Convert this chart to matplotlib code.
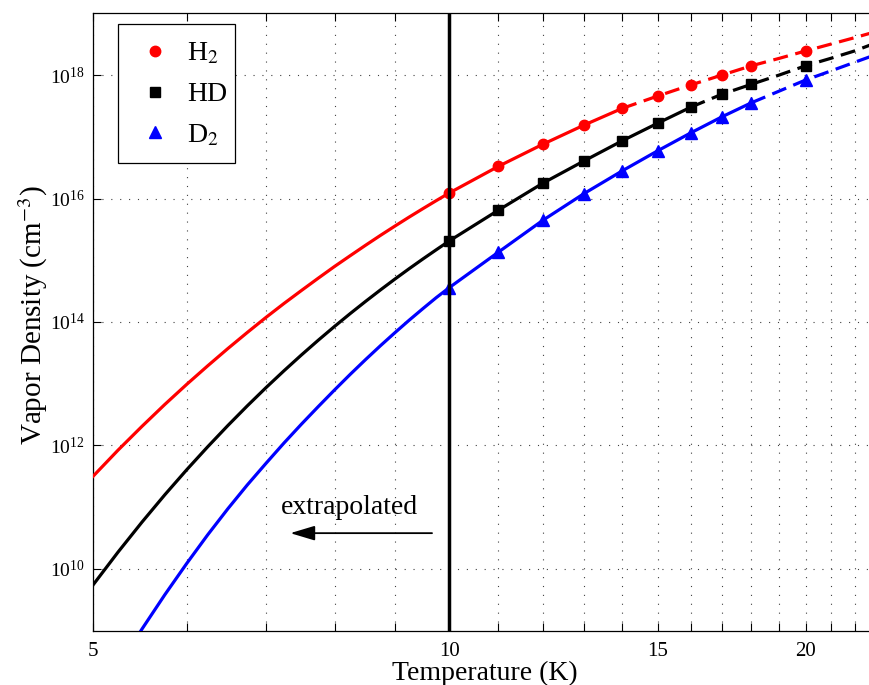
import numpy as np
import matplotlib
matplotlib.use("Agg")
import matplotlib.pyplot as plt
from matplotlib.patches import Rectangle
from matplotlib.ticker import FixedLocator, NullFormatter, FixedFormatter, LogFormatterMathtext, NullLocator

plt.rcParams['font.family'] = ['Liberation Serif', 'DejaVu Serif']
plt.rcParams['mathtext.fontset'] = 'stix'

# Temperature grid (K) for the vapour-density curves
temperature = [5.0, 5.25, 5.5, 5.75, 6.0, 6.25, 6.5, 6.75, 7.0, 7.25,
               7.5, 7.75, 8.0, 8.25, 8.5, 8.75, 9.0, 9.25, 9.5, 9.75,
               10, 11, 12, 13, 14, 15, 16, 17, 18, 19, 20, 21, 22, 23]

# log10 of vapour density (cm^-3)
h2_log10 = [11.50, 11.925, 12.31, 12.665, 12.99, 13.29, 13.57, 13.83, 14.074, 14.30,
            14.51, 14.71, 14.90, 15.076, 15.245, 15.405, 15.556, 15.70, 15.836, 15.966,
            16.09, 16.52, 16.88, 17.19, 17.46, 17.66, 17.84, 18.00, 18.15, 18.27,
            18.39, 18.50, 18.605, 18.71]
hd_log10 = [9.74, 10.274, 10.759, 11.202, 11.607, 11.979, 12.323, 12.641, 12.936, 13.21,
            13.466, 13.705, 13.929, 14.139, 14.336, 14.522, 14.698, 14.864, 15.021, 15.17,
            15.313, 15.81, 16.25, 16.61, 16.935, 17.22, 17.48, 17.69, 17.85, 18.00,
            18.15, 18.27, 18.39, 18.53]
d2_log10 = [7.737, 8.414, 9.027, 9.583, 10.089, 10.553, 10.975, 11.36, 11.71, 12.04,
            12.345, 12.63, 12.90, 13.155, 13.394, 13.619, 13.83, 14.03, 14.217, 14.395,
            14.557, 15.13, 15.649, 16.081, 16.448, 16.773, 17.064, 17.324, 17.551, 17.74,
            17.919, 18.065, 18.206, 18.34]

# Temperatures with tabulated (measured) points
measured_T = [10, 11, 12, 13, 14, 15, 16, 17, 18, 20]
# Solid line up to the triple point, dashed above it
solid_until = {'H2': 14, 'HD': 16, 'D2': 18}

series = [
    ('H2', r'H$_2$', h2_log10, 'red', 'o', 7.5),
    ('HD', 'HD', hd_log10, 'black', 's', 6.5),
    ('D2', r'D$_2$', d2_log10, 'blue', '^', 8.5),
]

x_ticks = [5, 10, 15, 20]
x_minor = [6, 7, 8, 9, 11, 12, 13, 14, 16, 17, 18, 19, 21, 22]
y_ticks = [1e10, 1e12, 1e14, 1e16, 1e18]

fig = plt.figure(figsize=(8.70, 6.85), dpi=100)
ax = fig.add_axes([93 / 870, 54.3 / 685, 784.4 / 870, 617.4 / 685])
ax.set_xscale('log')
ax.set_yscale('log')

T = np.array(temperature, dtype=float)
meas_mask = np.isin(T, measured_T)
handles = []
for key, label, vals, color, marker, ms in series:
    n = 10.0 ** np.array(vals)
    cut = np.searchsorted(T, solid_until[key]) + 1
    ax.plot(T[:cut], n[:cut], '-', color=color, lw=2.3, zorder=3,
            solid_joinstyle='round')
    ax.plot(T[cut - 1:], n[cut - 1:], color=color, lw=2.3, zorder=3,
            linestyle=(0, (4.7, 2.4)))
    h, = ax.plot(T[meas_mask], n[meas_mask], linestyle='none', marker=marker,
                 color=color, markersize=ms, zorder=4, label=label)
    handles.append(h)

# Lower limit of the tabulated data
ax.axvline(10, color='black', lw=2.5, zorder=5)

ax.set_xlim(5, 23)
ax.set_ylim(1e9, 1e19)

ax.xaxis.set_major_locator(FixedLocator(x_ticks))
ax.xaxis.set_major_formatter(FixedFormatter([str(v) for v in x_ticks]))
ax.xaxis.set_minor_locator(FixedLocator(x_minor))
ax.xaxis.set_minor_formatter(NullFormatter())
ax.yaxis.set_major_locator(FixedLocator(y_ticks))
ax.yaxis.set_major_formatter(LogFormatterMathtext())
ax.yaxis.set_minor_locator(NullLocator())

ax.tick_params(which='both', direction='in', length=6, width=0.8,
               top=True, right=False)
ax.tick_params(axis='x', pad=8, labelsize=15)
ax.tick_params(axis='y', pad=6, labelsize=14)

grid_style = dict(color='0.25', linestyle=(0, (1, 7)), linewidth=0.8)
ax.grid(True, which='major', axis='both', **grid_style)
ax.grid(True, which='minor', axis='x', **grid_style)
ax.set_axisbelow(True)

for s in ax.spines.values():
    s.set_linewidth(0.9)

ax.set_xlabel('Temperature (K)', fontsize=20, labelpad=0)
ax.set_ylabel(r'Vapor Density (cm$^{-3}$)', fontsize=21)
ax.yaxis.set_label_coords(-0.0545, 0.511)

ax.annotate('', xy=(7.34, 10 ** 10.58), xytext=(9.67, 10 ** 10.58),
            arrowprops=dict(arrowstyle='-|>,head_length=1.5,head_width=0.45',
                            color='black', lw=1.3, shrinkA=0, shrinkB=0))
ax.text(8.24, 10 ** 10.898, 'extrapolated', fontsize=20, ha='center', va='baseline')

# Legend entries, with a separately drawn frame
leg = ax.legend(handles=handles, loc='upper left',
                bbox_to_anchor=(0.0315, 0.9822), borderaxespad=0,
                fontsize=20, numpoints=1, handlelength=1.46, handletextpad=0.43,
                labelspacing=0.55, borderpad=0.6, frameon=False)
leg.set_zorder(7)
ax.add_patch(Rectangle((0.0319, 0.757), 0.1492, 0.2252, transform=ax.transAxes,
                       facecolor='white', edgecolor='black', lw=0.9, zorder=6))

fig.savefig('out.png', dpi=100)
